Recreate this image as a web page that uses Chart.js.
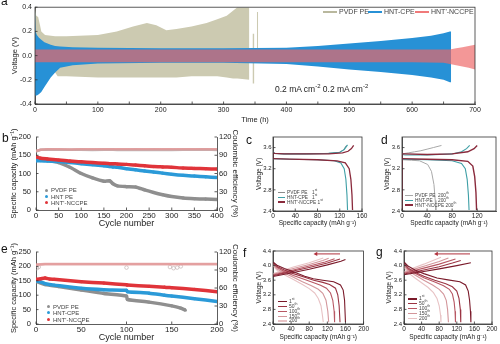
<!DOCTYPE html>
<html>
<head>
<meta charset="utf-8">
<script src="https://cdn.jsdelivr.net/npm/chart.js@4.4.0/dist/chart.umd.min.js"></script>
<style>
  body { margin: 0; width: 500px; height: 344px; position: relative; overflow: hidden; background: #fff;
         font-family: "Liberation Sans", Arial, sans-serif; color: #222; }
  canvas { position: absolute; }
  .pl { position: absolute; font-size: 12px; line-height: 12px; color: #111; }
  .lg { position: absolute; white-space: nowrap; color: #444; }
  .lg i { display: inline-block; vertical-align: middle; margin-right: 2px; }
  .lg b { display: inline-block; vertical-align: middle; margin-right: 3px; border-radius: 50%; }
  sup { font-size: 70%; line-height: 0; }
</style>
</head>
<body>
<canvas id="chartA" width="500" height="130" style="left:0;top:0"></canvas>
<canvas id="chartB" width="250" height="108" style="left:0;top:126px"></canvas>
<canvas id="chartC" width="127" height="104" style="left:243px;top:126px"></canvas>
<canvas id="chartD" width="128" height="104" style="left:372px;top:126px"></canvas>
<canvas id="chartE" width="250" height="104" style="left:0;top:240px"></canvas>
<canvas id="chartF" width="127" height="104" style="left:243px;top:240px"></canvas>
<canvas id="chartG" width="128" height="104" style="left:372px;top:240px"></canvas>

<div class="pl" style="left:1px;top:-5px">a</div>
<div class="pl" style="left:2px;top:132px">b</div>
<div class="pl" style="left:246px;top:134px">c</div>
<div class="pl" style="left:381px;top:134px">d</div>
<div class="pl" style="left:1px;top:243px">e</div>
<div class="pl" style="left:243px;top:247px">f</div>
<div class="pl" style="left:376px;top:246px">g</div>

<!-- legend a -->
<div class="lg" style="left:323px;top:8px;font-size:7px;line-height:8px"><i style="width:14px;height:1.5px;background:#b9b89e"></i>PVDF PE</div>
<div class="lg" style="left:368px;top:8px;font-size:7px;line-height:8px"><i style="width:14px;height:1.5px;background:#2791d6"></i>HNT-CPE</div>
<div class="lg" style="left:415px;top:8px;font-size:7px;line-height:8px"><i style="width:14px;height:1.5px;background:#f07a7a"></i>HNT'-NCCPE</div>
<div class="lg" style="left:275px;top:84px;font-size:8.5px;line-height:10px;color:#222">0.2 mA cm<sup>-2</sup> 0.2 mA cm<sup>-2</sup></div>

<!-- legend b -->
<div class="lg" style="left:45px;top:187px;font-size:6px;line-height:6px"><b style="width:3px;height:3px;background:#8f8f8f"></b>PVDF PE</div>
<div class="lg" style="left:45px;top:193.5px;font-size:6px;line-height:6px"><b style="width:3px;height:3px;background:#2b9ad8"></b>HNT PE</div>
<div class="lg" style="left:45px;top:199.5px;font-size:6px;line-height:6px"><b style="width:3px;height:3px;background:#e0343a"></b>HNT'-NCCPE</div>

<!-- legend c -->
<div class="lg" style="left:278px;top:190px;font-size:4.8px;line-height:6px"><i style="width:7px;height:1.2px;background:#8c8c8c"></i>PVDF PE</div>
<div class="lg" style="left:278px;top:194.5px;font-size:4.8px;line-height:6px"><i style="width:7px;height:1.2px;background:#3e9fa6"></i>HNT-CPE</div>
<div class="lg" style="left:278px;top:199.5px;font-size:4.8px;line-height:6px"><i style="width:7px;height:1.5px;background:#8a2a3c"></i>HNT'-NCCPE 1<sup>st</sup></div>
<div class="lg" style="left:312px;top:190px;font-size:4.8px;line-height:6px">1<sup>st</sup></div>
<div class="lg" style="left:312px;top:194.5px;font-size:4.8px;line-height:6px">1<sup>st</sup></div>

<!-- legend d -->
<div class="lg" style="left:405px;top:193px;font-size:4.8px;line-height:6px"><i style="width:8px;height:1.2px;background:#a8a8a8"></i>PVDF PE</div>
<div class="lg" style="left:405px;top:198px;font-size:4.8px;line-height:6px"><i style="width:8px;height:1.2px;background:#3e9fa6"></i>HNT-PE</div>
<div class="lg" style="left:405px;top:202.5px;font-size:4.8px;line-height:6px"><i style="width:8px;height:1.5px;background:#8a2a3c"></i>HNT'-NCCPE 200<sup>th</sup></div>
<div class="lg" style="left:438px;top:193px;font-size:4.8px;line-height:6px">200<sup>th</sup></div>
<div class="lg" style="left:438px;top:198px;font-size:4.8px;line-height:6px">200<sup>th</sup></div>

<!-- legend e -->
<div class="lg" style="left:47px;top:303.5px;font-size:6px;line-height:6px"><b style="width:3px;height:3px;background:#8f8f8f"></b>PVDF PE</div>
<div class="lg" style="left:47px;top:309.5px;font-size:6px;line-height:6px"><b style="width:3px;height:3px;background:#2b9ad8"></b>HNT-CPE</div>
<div class="lg" style="left:47px;top:316.5px;font-size:6px;line-height:6px"><b style="width:3px;height:3px;background:#e0343a"></b>HNT'-NCCPE</div>

<!-- legend f -->
<div class="lg" style="left:278px;top:298px;font-size:5px;line-height:6px"><i style="width:9px;height:1.5px;background:#7a1a2a"></i>1<sup>st</sup></div>
<div class="lg" style="left:278px;top:302.7px;font-size:5px;line-height:6px"><i style="width:9px;height:1.5px;background:#9b3443"></i>50<sup>th</sup></div>
<div class="lg" style="left:278px;top:307.7px;font-size:5px;line-height:6px"><i style="width:9px;height:1.5px;background:#b85864"></i>100<sup>th</sup></div>
<div class="lg" style="left:278px;top:312.7px;font-size:5px;line-height:6px"><i style="width:9px;height:1.5px;background:#d3969b"></i>150<sup>th</sup></div>
<div class="lg" style="left:278px;top:317.3px;font-size:5px;line-height:6px"><i style="width:9px;height:1.5px;background:#e8c3c5"></i>200<sup>th</sup></div>

<!-- legend g -->
<div class="lg" style="left:408px;top:295.3px;font-size:5px;line-height:6px"><i style="width:9px;height:1.5px;background:#7a1a2a"></i>1<sup>st</sup></div>
<div class="lg" style="left:408px;top:300px;font-size:5px;line-height:6px"><i style="width:9px;height:1.5px;background:#9b3443"></i>50<sup>th</sup></div>
<div class="lg" style="left:408px;top:304.7px;font-size:5px;line-height:6px"><i style="width:9px;height:1.5px;background:#b85864"></i>100<sup>th</sup></div>
<div class="lg" style="left:408px;top:309.7px;font-size:5px;line-height:6px"><i style="width:9px;height:1.5px;background:#d3969b"></i>150<sup>th</sup></div>
<div class="lg" style="left:408px;top:314.7px;font-size:5px;line-height:6px"><i style="width:9px;height:1.5px;background:#e8c3c5"></i>200<sup>th</sup></div>

<script>
// ---------- panel a: voltage envelopes (V) vs time (h) ----------
const pvdfT  = [0, 2, 5, 8, 10, 16, 32, 36, 50, 100, 130, 156, 178, 193, 209, 225, 249, 273, 290, 305, 315, 322, 341];
const pvdfHi = [0.40, 0.33, 0.32, 0.25, 0.20, 0.17, 0.16, 0.16, 0.16, 0.17, 0.20, 0.24, 0.27, 0.25, 0.21, 0.22, 0.24, 0.27, 0.30, 0.33, 0.37, 0.40, 0.40];
const pvdfLo = [-0.12, -0.12, -0.12, -0.12, -0.12, -0.13, -0.14, -0.17, -0.17, -0.18, -0.18, -0.18, -0.18, -0.18, -0.18, -0.18, -0.17, -0.17, -0.17, -0.18, -0.19, -0.19, -0.20];
const pvdfT2  = [346, 349];
const pvdfHi2 = [0.18, 0.18];
const pvdfLo2 = [-0.23, -0.23];
const pvdfT3  = [353, 355];
const pvdfHi3 = [0.36, 0.36];
const pvdfLo3 = [-0.02, -0.02];

const cpeT  = [0, 1, 3, 6, 10, 15, 20, 25, 32, 40, 60, 100, 200, 300, 400, 450, 500, 550, 600, 630, 650, 660, 662];
const cpeHi = [0.38, 0.20, 0.17, 0.15, 0.13, 0.11, 0.10, 0.09, 0.08, 0.075, 0.07, 0.065, 0.06, 0.06, 0.065, 0.08, 0.10, 0.12, 0.145, 0.165, 0.185, 0.20, 0.20];
const cpeLo = [-0.28, -0.33, -0.33, -0.32, -0.30, -0.26, -0.22, -0.18, -0.14, -0.10, -0.08, -0.065, -0.06, -0.06, -0.07, -0.09, -0.115, -0.135, -0.16, -0.18, -0.20, -0.22, -0.22];

const nccT  = [0, 100, 200, 300, 400, 500, 600, 650, 660, 670, 680, 690, 700];
const nccHi = [0.05, 0.05, 0.05, 0.05, 0.05, 0.05, 0.05, 0.05, 0.05, 0.06, 0.07, 0.08, 0.09];
const nccLo = [-0.055, -0.055, -0.055, -0.055, -0.055, -0.055, -0.055, -0.06, -0.07, -0.08, -0.09, -0.10, -0.115];

const aXTicks = [0, 50, 100, 150, 200, 250, 300, 350, 400, 450, 500, 550, 600, 650, 700];
const aYTicks = [-0.4, -0.2, 0, 0.2, 0.4];

// ---------- panel b: capacity (mAh/g) & CE (%) vs cycle ----------
const bCycles = [0, 10, 25, 50, 75, 100, 125, 150, 163, 170, 180, 200, 220, 240, 260, 280, 300, 325, 350, 375, 400];
const bPvdf   = [140, 138, 136, 130, 117, 100, 88, 79, 80, 72, 66, 64, 63, 55, 48, 42, 37, 33, 31, 30, 29];
const bCpe    = [135, 135, 134, 133, 130, 127, 124, 121, 119, 118, 117, 113, 110, 107, 104, 101, 98, 95, 93, 91, 89];
const bNcc    = [146, 142, 140, 137, 134, 132, 130, 128, 127, 127, 126, 125, 123, 121, 119, 118, 117, 115, 114, 113, 112];
const bCeNcc  = [97, 99, 100, 100, 99.5, 100, 100, 99.8, 100, 100, 99.7, 100, 100, 99.8, 100, 99.8, 100, 100, 99.7, 100, 100];
const bCePvdf = [96, 99, 99.5, 99, 99, 99, 98.5, 99, 99, 99, 98.8, 98.5, 99, 98.8, 99, 98.6, 98.8, 99, 99, 99.4, 98.8];
const bCeCpe  = [97, 99, 99.5, 99.5, 99.2, 99.4, 99.3, 99.5, 99.4, 99.3, 99.5, 99.4, 99.3, 99.5, 99.4, 99.3, 99.5, 99.4, 99.3, 99.5, 99.4];

// ---------- panel e ----------
const eCyclesPvdf = [0, 10, 25, 50, 75, 100, 101, 125, 150, 160, 165];
const ePvdf       = [148, 137, 130, 118, 106, 97, 85, 76, 63, 55, 48];
const eCycles     = [0, 5, 10, 15, 20, 50, 75, 100, 101, 125, 142, 150, 175, 200];
const eCpe        = [150, 146, 140, 137, 135, 124, 119, 117, 112, 107, 100, 97, 88, 78];
const eNcc        = [155, 157, 160, 156, 155, 147, 142, 136, 135, 131, 128, 126, 120, 112];
const eCeCycles   = [0, 10, 25, 50, 75, 100, 125, 150, 175, 200];
const eCeNcc      = [99, 100, 100, 99.8, 100, 100, 99.8, 100, 100, 99.8];
const eCeCpe      = [98, 99.5, 99.6, 99.5, 99.6, 99.4, 99.5, 99.6, 99.5, 99.5];
const eCeOutX     = [1, 3, 100, 148, 152, 156, 160];
const eCeOutY     = [93, 95, 94, 95, 93, 94, 96];

// ---------- panel c: 1st cycle voltage (V) vs capacity ----------
const cPvdfChgX = [0, 3, 20, 60, 100, 120, 127, 132];
const cPvdfChgY = [3.52, 3.49, 3.48, 3.48, 3.49, 3.51, 3.56, 3.64];
const cCpeChgX  = [0, 3, 20, 60, 100, 120, 128, 134];
const cCpeChgY  = [3.52, 3.49, 3.48, 3.48, 3.49, 3.51, 3.56, 3.65];
const cCpeDisX  = [0, 30, 80, 110, 122, 128, 131, 133, 134];
const cCpeDisY  = [3.39, 3.38, 3.37, 3.35, 3.31, 3.2, 3.0, 2.7, 2.42];
const cNccChgX  = [0, 0, 3, 20, 60, 100, 125, 135, 141, 145];
const cNccChgY  = [3.39, 3.5, 3.49, 3.48, 3.48, 3.48, 3.5, 3.53, 3.58, 3.64];
const cNccDisX  = [0, 30, 80, 115, 130, 137, 140, 142, 143];
const cNccDisY  = [3.39, 3.38, 3.37, 3.35, 3.31, 3.2, 3.0, 2.7, 2.42];

// ---------- panel d: 200th cycle ----------
const dPvdfChgX = [0, 10, 20, 30, 40, 50, 63];
const dPvdfChgY = [3.48, 3.5, 3.52, 3.54, 3.57, 3.6, 3.64];
const dPvdfDisX = [0, 15, 28, 41, 47, 51, 53, 54];
const dPvdfDisY = [3.37, 3.36, 3.35, 3.28, 3.15, 2.9, 2.6, 2.42];
const dCpeChgX  = [0, 5, 40, 80, 95, 103, 108];
const dCpeChgY  = [3.47, 3.46, 3.46, 3.48, 3.52, 3.58, 3.64];
const dCpeDisX  = [0, 40, 80, 95, 101, 104, 106, 107];
const dCpeDisY  = [3.38, 3.37, 3.35, 3.3, 3.2, 3.0, 2.7, 2.42];
const dNccChgX  = [0, 0, 5, 40, 80, 105, 115, 120];
const dNccChgY  = [2.42, 3.48, 3.48, 3.47, 3.48, 3.52, 3.58, 3.64];
const dNccDisX  = [0, 40, 80, 105, 113, 116, 118, 119];
const dNccDisY  = [3.39, 3.38, 3.37, 3.34, 3.25, 3.05, 2.75, 2.42];

// ---------- panel f: cycles 1/50/100/150/200 ----------
const cycleNames = ['1st', '50th', '100th', '150th', '200th'];
const cycleColors = ['#7a1a2a', '#9b3443', '#b85864', '#d3969b', '#e8c3c5'];
const fChgX = [
  [0, 20, 45, 80, 120, 150, 160],
  [0, 20, 45, 80, 120, 148],
  [0, 20, 45, 80, 115, 136],
  [0, 20, 45, 80, 110, 123],
  [0, 20, 45, 80, 111]
];
const fChgY = [
  [3.70, 3.75, 3.81, 3.90, 4.02, 4.12, 4.17],
  [3.72, 3.78, 3.85, 3.95, 4.07, 4.18],
  [3.74, 3.80, 3.88, 3.99, 4.10, 4.19],
  [3.76, 3.83, 3.92, 4.03, 4.14, 4.20],
  [3.78, 3.86, 3.96, 4.08, 4.21]
];
const fDisX = [
  [0, 10, 25, 45, 70, 89, 110, 134, 149, 155, 158, 160],
  [0, 10, 25, 45, 70, 90, 110, 125, 138, 143, 146, 148],
  [0, 10, 25, 45, 70, 90, 105, 118, 127, 132, 135, 136],
  [0, 10, 25, 45, 65, 85, 100, 110, 117, 121, 123],
  [0, 10, 25, 45, 65, 80, 92, 100, 106, 109, 111]
];
const fDisY = [
  [4.10, 4.00, 3.92, 3.83, 3.71, 3.64, 3.60, 3.56, 3.47, 3.33, 3.05, 2.45],
  [4.08, 3.97, 3.88, 3.78, 3.68, 3.60, 3.54, 3.48, 3.38, 3.20, 2.90, 2.45],
  [4.06, 3.94, 3.84, 3.73, 3.62, 3.53, 3.46, 3.38, 3.25, 3.05, 2.75, 2.45],
  [4.03, 3.90, 3.80, 3.68, 3.56, 3.45, 3.35, 3.24, 3.05, 2.75, 2.45],
  [4.00, 3.86, 3.75, 3.62, 3.48, 3.37, 3.25, 3.10, 2.90, 2.65, 2.45]
];
const fArrowX = [148, 95];
const fArrowY = [4.32, 4.32];

// ---------- panel g ----------
const gChgX = [
  [0, 20, 45, 80, 120, 152],
  [0, 20, 45, 80, 110, 129],
  [0, 20, 45, 80, 117],
  [0, 20, 45, 80, 101],
  [0, 20, 45, 84]
];
const gChgY = [
  [3.75, 3.79, 3.84, 3.91, 4.00, 4.08],
  [3.77, 3.82, 3.88, 3.97, 4.07, 4.14],
  [3.79, 3.85, 3.93, 4.04, 4.18],
  [3.81, 3.89, 3.98, 4.11, 4.21],
  [3.83, 3.93, 4.04, 4.23]
];
const gDisX = [
  [0, 10, 25, 45, 75, 100, 127, 140, 146, 149, 151, 152],
  [0, 10, 25, 45, 70, 95, 110, 120, 125, 128, 129],
  [0, 10, 25, 45, 70, 90, 103, 110, 114, 116, 117],
  [0, 10, 25, 45, 65, 80, 90, 96, 99, 101],
  [0, 10, 25, 40, 55, 67, 75, 80, 83, 84]
];
const gDisY = [
  [4.10, 3.98, 3.88, 3.78, 3.66, 3.61, 3.56, 3.47, 3.30, 3.05, 2.75, 2.45],
  [4.07, 3.93, 3.82, 3.71, 3.60, 3.50, 3.42, 3.30, 3.10, 2.80, 2.45],
  [4.04, 3.90, 3.79, 3.67, 3.55, 3.45, 3.35, 3.22, 3.00, 2.75, 2.45],
  [4.00, 3.86, 3.74, 3.60, 3.47, 3.35, 3.22, 3.05, 2.80, 2.45],
  [3.95, 3.80, 3.66, 3.53, 3.40, 3.26, 3.10, 2.90, 2.65, 2.45]
];
const gArrowX = [150, 74];
const gArrowY = [4.32, 4.32];

const cvXTicks = [0, 40, 80, 120, 160];
const dXTicks = [0, 40, 80, 120];
const fgXTicks = [0, 40, 80, 120, 160, 200];
const cdYTicks = [2.4, 2.8, 3.2, 3.6];
const fgYTicks = [2.4, 2.8, 3.2, 3.6, 4.0, 4.4];

// ---------- helpers ----------
Chart.defaults.font.family = "'Liberation Sans', Arial, sans-serif";
Chart.defaults.color = '#222';
Chart.defaults.animation = false;
Chart.defaults.plugins.legend.display = false;
Chart.defaults.plugins.tooltip.enabled = false;

const pts = (xs, ys) => xs.map((x, i) => ({ x: x, y: ys[i] }));

// ticks pointing into the plot, and an optional closed frame
const innerTicks = {
  id: 'innerTicks',
  afterDatasetsDraw(chart, args, opts) {
    const { ctx, chartArea: ca } = chart;
    ctx.save();
    ctx.strokeStyle = '#333';
    ctx.lineWidth = 0.8;
    Object.values(chart.scales).forEach((s) => {
      s.ticks.forEach((t) => {
        const p = s.getPixelForValue(t.value);
        ctx.beginPath();
        if (s.position === 'bottom') { ctx.moveTo(p, ca.bottom); ctx.lineTo(p, ca.bottom - 2.5); }
        if (s.position === 'left') { ctx.moveTo(ca.left, p); ctx.lineTo(ca.left + 2.5, p); }
        if (s.position === 'right') { ctx.moveTo(ca.right, p); ctx.lineTo(ca.right - 2.5, p); }
        ctx.stroke();
      });
    });
    if (opts.box) ctx.strokeRect(ca.left, ca.top, ca.right - ca.left, ca.bottom - ca.top);
    ctx.restore();
  }
};

function scale(pos, s) {
  return {
    type: 'linear',
    position: pos,
    min: s.min,
    max: s.max,
    afterFit: (sc) => { if (pos === 'bottom') sc.height = s.size; else sc.width = s.size; },
    afterBuildTicks: (sc) => { sc.ticks = s.ticks.map((v) => ({ value: v })); },
    ticks: {
      font: { size: s.font },
      padding: s.tickPad,
      maxRotation: 0,
      autoSkip: false,
      color: '#222',
      callback: s.fmt || ((v) => v)
    },
    grid: { display: true, drawOnChartArea: false, drawTicks: false },
    border: { display: true, color: '#333', width: 0.8 },
    title: { display: true, text: s.title, color: '#222', font: { size: s.titleSize }, padding: s.titlePad }
  };
}

function band(label, xs, hi, lo, color, order) {
  return [
    { label: label, data: pts(xs, hi), fill: '+1', backgroundColor: color, borderWidth: 0, pointRadius: 0, order: order },
    { label: label + ' low', data: pts(xs, lo), fill: false, borderWidth: 0, pointRadius: 0, order: order }
  ];
}

function curve(xs, ys, color, width) {
  return { data: pts(xs, ys), borderColor: color, borderWidth: width || 1, pointRadius: 0, fill: false, tension: 0 };
}

function capLine(xs, ys, color, axisId) {
  return { data: pts(xs, ys), borderColor: color, backgroundColor: color, borderWidth: 3.5,
           pointRadius: 1.6, pointBorderWidth: 0, fill: false, yAxisID: axisId, tension: 0.2 };
}

const fix1 = (v) => Number(v).toFixed(1);

// ---------- chart a ----------
new Chart(document.getElementById('chartA'), {
  type: 'line',
  data: {
    datasets: [].concat(
      band('HNT\'-NCCPE', nccT, nccHi, nccLo, 'rgba(238,102,102,0.68)', 0),
      band('HNT-CPE', cpeT, cpeHi, cpeLo, '#2791d6', 1),
      band('PVDF PE', pvdfT, pvdfHi, pvdfLo, '#cccab1', 2),
      band('PVDF PE b', pvdfT2, pvdfHi2, pvdfLo2, '#cccab1', 2),
      band('PVDF PE c', pvdfT3, pvdfHi3, pvdfLo3, '#cccab1', 2)
    )
  },
  options: {
    responsive: false,
    devicePixelRatio: 1,
    layout: { autoPadding: false, padding: { left: 0, top: 4, right: 25, bottom: 0 } },
    scales: {
      x: scale('bottom', { min: 0, max: 700, ticks: aXTicks, size: 26, font: 7, tickPad: 2,
        fmt: (v) => (v % 100 === 0 ? v : ''), title: 'Time (h)', titleSize: 7.5, titlePad: { top: 0, bottom: 5.5 } }),
      y: scale('left', { min: -0.4, max: 0.4, ticks: aYTicks, size: 35, font: 7, tickPad: 3,
        fmt: fix1, title: 'Voltage (V)', titleSize: 7.5, titlePad: { top: 10.5, bottom: 0 } })
    },
    plugins: { innerTicks: { box: true } }
  },
  plugins: [innerTicks]
});

// ---------- chart b ----------
new Chart(document.getElementById('chartB'), {
  type: 'line',
  data: {
    datasets: [
      capLine(bCycles, bNcc, '#e0343a', 'y'),
      capLine(bCycles, bCpe, '#2b9ad8', 'y'),
      capLine(bCycles, bPvdf, '#8f8f8f', 'y'),
      { data: pts(bCycles, bCeNcc), borderColor: 'rgba(226,150,150,0.8)', borderWidth: 2.5, pointRadius: 0, yAxisID: 'y2' },
      { data: pts(bCycles, bCePvdf), borderColor: 'rgba(175,175,175,0.8)', borderWidth: 2.5, pointRadius: 0, yAxisID: 'y2' },
      { data: pts(bCycles, bCeCpe), borderColor: 'rgba(230,185,185,0.8)', borderWidth: 2.5, pointRadius: 0, yAxisID: 'y2' }
    ]
  },
  options: {
    responsive: false,
    devicePixelRatio: 1,
    layout: { autoPadding: false, padding: { left: 0, top: 11, right: 0, bottom: 0 } },
    scales: {
      x: scale('bottom', { min: 0, max: 400, ticks: [0, 50, 100, 150, 200, 250, 300, 350, 400], size: 24, font: 8, tickPad: 1,
        title: 'Cycle number', titleSize: 9, titlePad: { top: 0, bottom: 4.6 } }),
      y: scale('left', { min: 0, max: 200, ticks: [0, 50, 100, 150, 200], size: 36, font: 7.5, tickPad: 5,
        title: 'Specific capacity (mAh g⁻¹)', titleSize: 7.5, titlePad: { top: 9.5, bottom: 0 } }),
      y2: scale('right', { min: 0, max: 120, ticks: [0, 30, 60, 90, 120], size: 33, font: 7.5, tickPad: 2,
        title: 'Coulombic efficiency (%)', titleSize: 8, titlePad: { top: 10.2, bottom: 0 } })
    },
    plugins: { innerTicks: { box: false } }
  },
  plugins: [innerTicks]
});

// ---------- chart c ----------
new Chart(document.getElementById('chartC'), {
  type: 'line',
  data: {
    datasets: [
      curve(cNccChgX, cNccChgY, '#8a2a3c', 1.3),
      curve(cNccDisX, cNccDisY, '#8a2a3c', 1.3),
      curve(cCpeChgX, cCpeChgY, '#3e9fa6', 1.1),
      curve(cCpeDisX, cCpeDisY, '#3e9fa6', 1.1),
      curve(cPvdfChgX, cPvdfChgY, '#8c8c8c', 1)
    ]
  },
  options: {
    responsive: false,
    devicePixelRatio: 1,
    layout: { autoPadding: false, padding: { left: 0, top: 11, right: 8, bottom: 0 } },
    scales: {
      x: scale('bottom', { min: 0, max: 160, ticks: cvXTicks, size: 19, font: 6.5, tickPad: 1,
        title: 'Specific capacity (mAh g⁻¹)', titleSize: 6.5, titlePad: { top: 0, bottom: 3 } }),
      y: scale('left', { min: 2.4, max: 3.8, ticks: cdYTicks, size: 30, font: 6, tickPad: 1.5,
        fmt: fix1, title: 'Voltage (V)', titleSize: 6.5, titlePad: { top: 12.6, bottom: 0 } })
    },
    plugins: { innerTicks: { box: true } }
  },
  plugins: [innerTicks]
});

// ---------- chart d ----------
new Chart(document.getElementById('chartD'), {
  type: 'line',
  data: {
    datasets: [
      curve(dNccChgX, dNccChgY, '#8a2a3c', 1.4),
      curve(dNccDisX, dNccDisY, '#8a2a3c', 1.4),
      curve(dCpeChgX, dCpeChgY, '#3e9fa6', 1.1),
      curve(dCpeDisX, dCpeDisY, '#3e9fa6', 1.1),
      curve(dPvdfChgX, dPvdfChgY, '#a8a8a8', 1),
      curve(dPvdfDisX, dPvdfDisY, '#a8a8a8', 1)
    ]
  },
  options: {
    responsive: false,
    devicePixelRatio: 1,
    layout: { autoPadding: false, padding: { left: 0, top: 11, right: 4, bottom: 0 } },
    scales: {
      x: scale('bottom', { min: 0, max: 150, ticks: dXTicks, size: 19, font: 6.5, tickPad: 1,
        title: 'Specific capacity (mAh g⁻¹)', titleSize: 6.5, titlePad: { top: 0, bottom: 3 } }),
      y: scale('left', { min: 2.4, max: 3.8, ticks: cdYTicks, size: 30, font: 6, tickPad: 2,
        fmt: fix1, title: 'Voltage (V)', titleSize: 6.5, titlePad: { top: 11.1, bottom: 0 } })
    },
    plugins: { innerTicks: { box: true } }
  },
  plugins: [innerTicks]
});

// ---------- chart e ----------
new Chart(document.getElementById('chartE'), {
  type: 'line',
  data: {
    datasets: [
      capLine(eCycles, eNcc, '#e0343a', 'y'),
      capLine(eCycles, eCpe, '#2b9ad8', 'y'),
      capLine(eCyclesPvdf, ePvdf, '#8f8f8f', 'y'),
      { data: pts(eCeCycles, eCeNcc), borderColor: 'rgba(226,150,150,0.8)', borderWidth: 2.5, pointRadius: 0, yAxisID: 'y2' },
      { data: pts(eCeCycles, eCeCpe), borderColor: 'rgba(230,185,185,0.8)', borderWidth: 2.5, pointRadius: 0, yAxisID: 'y2' },
      { data: pts(eCeOutX, eCeOutY), showLine: false, pointRadius: 1.8, pointBorderWidth: 0.7,
        pointBorderColor: 'rgba(190,170,170,0.9)', pointBackgroundColor: 'rgba(255,255,255,0)', yAxisID: 'y2' }
    ]
  },
  options: {
    responsive: false,
    devicePixelRatio: 1,
    layout: { autoPadding: false, padding: { left: 0, top: 12, right: 0, bottom: 0 } },
    scales: {
      x: scale('bottom', { min: 0, max: 200, ticks: [0, 50, 100, 150, 200], size: 20, font: 8, tickPad: 1,
        title: 'Cycle number', titleSize: 9, titlePad: { top: 0, bottom: 0.6 } }),
      y: scale('left', { min: 0, max: 250, ticks: [0, 50, 100, 150, 200, 250], size: 36, font: 7.5, tickPad: 5,
        title: 'Specific capacity (mAh g⁻¹)', titleSize: 7.5, titlePad: { top: 9.5, bottom: 0 } }),
      y2: scale('right', { min: 0, max: 120, ticks: [0, 30, 60, 90, 120], size: 33, font: 7.5, tickPad: 2,
        title: 'Coulombic efficiency (%)', titleSize: 8, titlePad: { top: 10.2, bottom: 0 } })
    },
    plugins: { innerTicks: { box: false } }
  },
  plugins: [innerTicks]
});

// ---------- charts f and g ----------
function cycleSets(chgX, chgY, disX, disY, arrX, arrY) {
  const sets = [];
  for (let i = 0; i < cycleNames.length; i++) {
    sets.push(curve(chgX[i], chgY[i], cycleColors[i], 1.1));
    sets.push(curve(disX[i], disY[i], cycleColors[i], 1.1));
  }
  sets.push({ data: pts(arrX, arrY), borderColor: '#b0303c', backgroundColor: '#b0303c', borderWidth: 1,
              pointStyle: 'triangle', pointRotation: 270, pointRadius: [0, 2.5], pointBorderWidth: 0 });
  return sets;
}

function cycleOptions(ySize, yPad, rightPad) {
  return {
    responsive: false,
    devicePixelRatio: 1,
    layout: { autoPadding: false, padding: { left: 0, top: 11, right: rightPad, bottom: 0 } },
    scales: {
      x: scale('bottom', { min: 0, max: 200, ticks: fgXTicks, size: 20, font: 6.5, tickPad: 1,
        title: 'Specific capacity (mAh g⁻¹)', titleSize: 6.5, titlePad: { top: 0, bottom: 3 } }),
      y: scale('left', { min: 2.4, max: 4.4, ticks: fgYTicks, size: ySize, font: 6, tickPad: 2,
        fmt: fix1, title: 'Voltage (V)', titleSize: 6.5, titlePad: { top: yPad, bottom: 0 } })
    },
    plugins: { innerTicks: { box: true } }
  };
}

new Chart(document.getElementById('chartF'), {
  type: 'line',
  data: { datasets: cycleSets(fChgX, fChgY, fDisX, fDisY, fArrowX, fArrowY) },
  options: cycleOptions(30, 12.6, 6),
  plugins: [innerTicks]
});

new Chart(document.getElementById('chartG'), {
  type: 'line',
  data: { datasets: cycleSets(gChgX, gChgY, gDisX, gDisY, gArrowX, gArrowY) },
  options: cycleOptions(32, 13.1, 8),
  plugins: [innerTicks]
});
</script>
</body>
</html>
